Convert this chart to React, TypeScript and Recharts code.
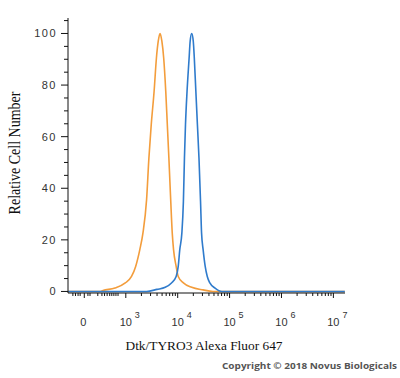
import { LineChart, Line, XAxis, YAxis } from "recharts";

// x positions are in display decades (logicle-like axis), y is % of max
const orangeLog = [1.89, 2.5, 2.56, 2.79, 2.99, 3.11, 3.19, 3.27, 3.33, 3.4, 3.445, 3.49, 3.545, 3.59, 3.625, 3.66, 3.695, 3.73, 3.77, 3.8, 3.83, 3.865, 3.895, 3.92, 3.97, 4.01, 4.11, 4.27, 4.49, 4.68, 7.22];
const orangeCount = [0, 0, 0.4, 1.3, 3.3, 5.8, 9.7, 16.2, 22.6, 35.5, 51.7, 64.6, 77.5, 90.5, 97, 100, 97, 90.5, 77.5, 64.6, 51.7, 35.5, 22.6, 16.2, 9.7, 5.8, 3.3, 1.6, 0.6, 0, 0];

const blueLog = [1.89, 3.4, 3.6, 3.76, 3.88, 3.97, 4.01, 4.04, 4.08, 4.11, 4.13, 4.15, 4.18, 4.22, 4.24, 4.27, 4.3, 4.32, 4.35, 4.38, 4.41, 4.44, 4.46, 4.49, 4.53, 4.57, 4.62, 4.72, 4.85, 7.22];
const blueCount = [0, 0, 0.8, 1.6, 3.3, 5.8, 9.7, 16.2, 22.6, 35, 51.7, 64.6, 77.5, 90.5, 97, 100, 97, 90.5, 77.5, 64.6, 51.7, 35, 22.6, 16.2, 9.7, 5.8, 3.3, 1.3, 0, 0];

const xMajorTicks = [2.2, 3, 4, 5, 6, 7];
const xMajorExponents = ["", "3", "4", "5", "6", "7"];
const xMinorTicks = [
  1.98, 2.03, 2.08, 2.12, 2.27, 2.31, 2.46, 2.54, 2.59, 2.64, 2.69, 2.73, 2.77, 2.81, 2.85,
  3.301, 3.477, 3.602, 3.699, 3.778, 3.845, 3.903, 3.954,
  4.301, 4.477, 4.602, 4.699, 4.778, 4.845, 4.903, 4.954,
  5.301, 5.477, 5.602, 5.699, 5.778, 5.845, 5.903, 5.954,
  6.301, 6.477, 6.602, 6.699, 6.778, 6.845, 6.903, 6.954,
];

const yMajorTicks = [0, 20, 40, 60, 80, 100];
const yMinorTicks = [5, 10, 15, 25, 30, 35, 45, 50, 55, 65, 70, 75, 85, 90, 95, 105];

const ORANGE = "#f39d3c";
const BLUE = "#2f7bcc";
const SANS = "'Liberation Sans', Arial, sans-serif";
const SERIF = "'Liberation Serif', 'Times New Roman', serif";

const orangeData = orangeLog.map((x, i) => ({ x, count: orangeCount[i] }));
const blueData = blueLog.map((x, i) => ({ x, count: blueCount[i] }));
const xTicks = [...xMinorTicks, ...xMajorTicks].sort((a, b) => a - b);
const yTicks = [...yMinorTicks, ...yMajorTicks].sort((a, b) => a - b);

interface TickProps {
  x?: number;
  y?: number;
  payload?: { value: number };
}

function XTick({ x = 0, y = 0, payload }: TickProps) {
  const i = payload ? xMajorTicks.indexOf(payload.value) : -1;
  if (i < 0) return <line x1={x} y1={y} x2={x} y2={y + 3} stroke="#111" />;
  const exp = xMajorExponents[i];
  return (
    <g>
      <line x1={x} y1={y} x2={x} y2={y + 5} stroke="#111" />
      {exp === "" ? (
        <text x={x - 1} y={y + 33} textAnchor="middle" fontSize={11} fontFamily={SANS} fill="#333">0</text>
      ) : (
        <>
          <text x={x} y={y + 33} textAnchor="middle" fontSize={11} fontFamily={SANS} fill="#333">10</text>
          <text x={x + 9} y={y + 25} fontSize={9} fontFamily={SANS} fill="#333">{exp}</text>
        </>
      )}
    </g>
  );
}

function YTick({ x = 0, y = 0, payload }: TickProps) {
  const major = payload ? yMajorTicks.includes(payload.value) : false;
  if (!major) return <line x1={x - 4} y1={y} x2={x} y2={y} stroke="#111" />;
  return (
    <g>
      <line x1={x - 7} y1={y} x2={x} y2={y} stroke="#111" />
      <text x={x - 11} y={y + 4} textAnchor="end" fontSize={11} letterSpacing={1.5} fontFamily={SANS} fill="#333">
        {payload?.value}
      </text>
    </g>
  );
}

function XTitle() {
  return (
    <g>
      <text x={204} y={350} textAnchor="middle" fontSize={12} fontFamily={SERIF} fill="#111" textLength={157} lengthAdjust="spacingAndGlyphs">
        Dtk/TYRO3 Alexa Fluor 647
      </text>
      <text x={222} y={369} fontSize={8} fontWeight="bold" fontFamily="'Open Sans', sans-serif" fill="#555" textLength={175} lengthAdjust="spacingAndGlyphs">
        Copyright © 2018 Novus Biologicals
      </text>
    </g>
  );
}

function YTitle() {
  return (
    <text transform="translate(20,153) scale(1.2,1) rotate(-90)" textAnchor="middle" fontSize={14} fontFamily={SERIF} fill="#111">
      Relative Cell Number
    </text>
  );
}

export default function App() {
  return (
    <div style={{ position: "absolute", left: 0, top: 0, width: 400, height: 378, background: "#fff" }}>
      <LineChart width={400} height={378} margin={{ top: 18, right: 55, bottom: 0, left: 0 }}>
        <XAxis
          type="number"
          dataKey="x"
          domain={[1.886, 7.224]}
          allowDataOverflow
          ticks={xTicks}
          interval={0}
          tickSize={0}
          tickMargin={0}
          tickLine={false}
          height={85}
          axisLine={{ stroke: "#111" }}
          tick={<XTick />}
          label={{ content: () => <XTitle /> }}
        />
        <YAxis
          type="number"
          domain={[-0.6, 106]}
          allowDataOverflow
          ticks={yTicks}
          interval={0}
          tickSize={0}
          tickMargin={0}
          tickLine={false}
          width={68}
          axisLine={{ stroke: "#111" }}
          tick={<YTick />}
          label={{ content: () => <YTitle /> }}
        />
        <Line data={orangeData} dataKey="count" type="monotone" stroke={ORANGE} strokeWidth={1.6} dot={false} isAnimationActive={false} />
        <Line data={blueData} dataKey="count" type="monotone" stroke={BLUE} strokeWidth={1.6} dot={false} isAnimationActive={false} />
      </LineChart>
    </div>
  );
}
